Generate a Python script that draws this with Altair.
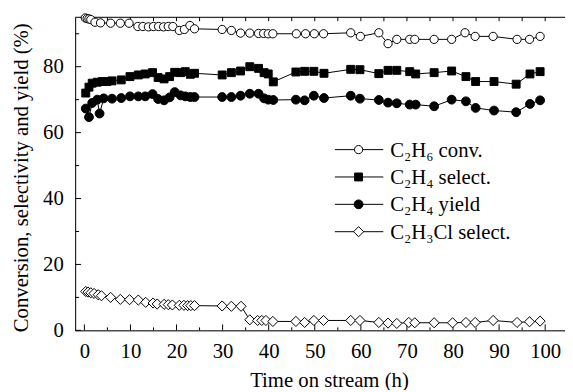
import altair as alt
import pandas as pd

# ---------------- data ----------------
conv_t = [0.2, 0.6, 1.0, 1.4, 2.3, 3.5, 5.7, 7.8, 9.7, 11.6, 12.7, 13.9, 15.0, 16.1, 17.2, 18.2,
          19.2, 20.6, 21.7, 22.9, 23.9, 29.9, 31.9, 33.9, 35.9, 37.8, 38.9, 39.9, 40.9, 46.0, 48.0, 49.9,
          51.9, 57.8, 59.9, 63.9, 65.9, 67.8, 70.6, 71.7, 75.9, 79.7, 82.6, 84.8, 88.7, 93.9, 96.6, 98.9]
conv_v = [94.8, 94.6, 94.5, 94.3, 93.5, 93.3, 93.2, 93.2, 93.2, 92.2, 92.2, 92.1, 92.2, 92.2, 92.1, 92.2,
          92.2, 91.0, 91.3, 92.5, 91.5, 91.3, 91.0, 90.2, 90.2, 90.1, 90.1, 90.0, 90.0, 90.0, 90.0, 90.0,
          90.0, 90.3, 89.2, 90.3, 87.0, 88.3, 88.3, 88.3, 88.3, 88.3, 90.3, 89.2, 89.2, 88.3, 88.3, 89.2]

sel_t = [0.3, 1.0, 1.7, 2.8, 3.9, 4.9, 6.0, 8.0, 9.9, 11.7, 13.2, 14.8, 16.0, 17.3, 18.5, 19.6,
         20.9, 21.9, 23.0, 23.9, 29.9, 31.9, 33.9, 35.9, 37.8, 39.0, 39.9, 41.0, 45.9, 47.8, 49.8, 52.0,
         57.8, 59.8, 63.9, 65.9, 67.8, 70.6, 71.9, 75.9, 79.7, 82.8, 84.9, 88.9, 93.7, 96.7, 98.9]
sel_v = [72.0, 73.8, 75.0, 75.3, 75.5, 75.5, 75.7, 76.0, 77.0, 77.5, 77.8, 78.2, 76.7, 76.3, 77.0, 78.3,
         78.2, 78.5, 77.7, 78.0, 77.5, 78.2, 78.7, 80.0, 79.5, 78.2, 77.8, 75.4, 78.4, 78.6, 78.6, 78.0,
         79.2, 79.1, 77.9, 78.9, 78.9, 78.5, 77.8, 78.2, 78.7, 77.0, 75.5, 75.5, 74.7, 77.8, 78.5]

yld_t = [0.3, 1.0, 1.7, 2.8, 3.3, 4.2, 6.0, 8.0, 9.9, 11.7, 13.2, 14.8, 16.0, 17.3, 18.5, 19.6,
         20.9, 21.9, 23.0, 23.9, 29.9, 31.9, 33.9, 35.9, 37.8, 39.0, 39.9, 41.0, 45.9, 47.8, 49.8, 52.0,
         57.8, 59.8, 63.9, 65.9, 67.8, 70.6, 71.9, 75.9, 79.7, 82.8, 84.9, 88.9, 93.7, 96.7, 98.9]
yld_v = [67.3, 64.7, 69.0, 70.0, 65.8, 70.4, 70.3, 70.5, 71.0, 71.0, 71.0, 71.7, 70.2, 69.8, 70.7, 72.3,
         71.3, 71.0, 70.8, 70.8, 70.8, 70.8, 71.2, 71.8, 71.8, 70.4, 70.0, 69.9, 70.0, 69.8, 71.2, 70.5,
         71.2, 70.3, 69.9, 69.1, 68.9, 68.5, 68.5, 68.0, 70.0, 69.5, 67.5, 66.7, 66.2, 68.7, 69.8]

cl_t = [0.3, 0.8, 1.4, 2.1, 3.0, 3.7, 5.7, 7.8, 9.8, 11.7, 13.3, 14.9, 15.8, 17.3, 18.2, 19.1,
        20.6, 21.6, 22.4, 23.1, 23.9, 29.9, 31.9, 34.0, 35.9, 37.6, 38.5, 39.4, 40.9, 45.9, 47.8, 49.8,
        51.9, 57.8, 59.8, 63.9, 65.9, 67.8, 70.4, 71.7, 75.9, 79.9, 82.8, 84.8, 88.7, 93.9, 96.6, 98.9]
cl_v = [11.8, 11.6, 11.4, 11.2, 10.8, 10.5, 10.0, 9.4, 9.3, 9.2, 8.5, 8.3, 8.0, 7.9, 7.8, 7.7,
        7.6, 7.6, 7.5, 7.5, 7.5, 7.4, 7.3, 7.3, 3.2, 3.0, 3.0, 3.0, 2.7, 2.7, 2.4, 3.0,
        3.0, 3.0, 3.0, 2.4, 2.2, 2.1, 2.4, 2.3, 2.3, 2.3, 2.4, 2.4, 3.0, 2.4, 2.6, 2.8]

labels = ["C\u2082H\u2086 conv.", "C\u2082H\u2084 select.", "C\u2082H\u2084 yield", "C\u2082H\u2083Cl select."]

x_major = [0, 10, 20, 30, 40, 50, 60, 70, 80, 90, 100]
x_minor = [5, 15, 25, 35, 45, 55, 65, 75, 85, 95]
y_major = [0, 20, 40, 60, 80]
y_minor = [10, 30, 50, 70, 90]

# ---------------- styling ----------------
W, H = 496, 317
FONT = "Liberation Serif"
FS = 21

x_enc = alt.X(
    "t:Q",
    scale=alt.Scale(domain=[-2, 104.3], nice=False, zero=False),
    axis=alt.Axis(values=x_major, ticks=False, grid=False, domain=True, domainColor="black",
                  domainWidth=1, labelPadding=10, labelFlush=False, format="d",
                  title="Time on stream (h)",
                  titleX=257, titleY=51, titleBaseline="middle", titleAlign="center"),
)
y_enc = alt.Y(
    "v:Q",
    scale=alt.Scale(domain=[0, 95], nice=False, zero=False),
    axis=alt.Axis(values=y_major, ticks=False, grid=False, domain=True, domainColor="black",
                  domainWidth=1, labelPadding=12, labelFlush=False, format="d",
                  title="Conversion, selectivity and yield (%)", titleAngle=270,
                  titleX=-54, titleY=162, titleBaseline="middle", titleAlign="center"),
)

series = [
    (conv_t, conv_v, "circle", "white", 70),
    (sel_t, sel_v, "square", "black", 64),
    (yld_t, yld_v, "circle", "black", 80),
    (cl_t, cl_v, "diamond", "white", 105),
]

layers = []

# inward ticks on bottom, top and left
def tick_layer(vals, field, kind, length):
    df = pd.DataFrame({field: vals})
    c = alt.Chart(df).mark_rule(color="black", strokeWidth=1)
    if kind == "bottom":
        return c.encode(x=x_enc, y=alt.value(H), y2=alt.value(H - length))
    if kind == "top":
        return c.encode(x=x_enc, y=alt.value(0), y2=alt.value(length))
    return c.encode(y=y_enc, x=alt.value(0), x2=alt.value(length))

layers += [
    tick_layer(x_major, "t", "bottom", 6),
    tick_layer(x_minor, "t", "bottom", 3),
    tick_layer(x_major, "t", "top", 4),
    tick_layer(x_minor, "t", "top", 4),
    tick_layer(y_major, "v", "left", 6),
    tick_layer(y_minor, "v", "left", 4),
]

# top frame line
layers.append(
    alt.Chart(pd.DataFrame({"a": [0]})).mark_rule(color="black", strokeWidth=1)
    .encode(x=alt.value(0), x2=alt.value(W), y=alt.value(0))
)

for (ts, vs, shape, fill, size) in series:
    df = pd.DataFrame({"t": ts, "v": vs})
    base = alt.Chart(df)
    layers.append(base.mark_line(color="black", strokeWidth=1).encode(x=x_enc, y=y_enc, order="t:Q"))
    layers.append(base.mark_point(shape=shape, filled=True, fill=fill, stroke="black",
                                  strokeWidth=1, size=size, opacity=1)
                  .encode(x=x_enc, y=y_enc))

# legend drawn as marks
LEG_Y0, LEG_DY = 134, 27.7
for i, (label, (_, _, shape, fill, size)) in enumerate(zip(labels, series)):
    ly = LEG_Y0 + LEG_DY * i
    ldf = pd.DataFrame({"label": [label]})
    lc = alt.Chart(ldf)
    layers.append(lc.mark_rule(color="black", strokeWidth=1)
                  .encode(x=alt.value(263), x2=alt.value(312), y=alt.value(ly)))
    layers.append(lc.mark_point(shape=shape, filled=True, fill=fill, stroke="black",
                                strokeWidth=1, size=size, opacity=1)
                  .encode(x=alt.value(287), y=alt.value(ly)))
    layers.append(lc.mark_text(align="left", baseline="middle", font=FONT, fontSize=FS,
                               color="black", dy=1)
                  .encode(x=alt.value(319), y=alt.value(ly), text="label:N"))

chart = (
    alt.layer(*layers)
    .properties(width=W, height=H,
                padding={"left": 68, "top": 7, "right": 0, "bottom": 58},
                autosize=alt.AutoSizeParams(type="none"))
    .configure_view(strokeWidth=0)
    .configure(background="white", font=FONT)
    .configure_axis(labelFont=FONT, labelFontSize=FS, labelColor="black",
                    titleFont=FONT, titleFontSize=FS, titleFontWeight="normal",
                    titleColor="black")
)

chart.save("out.html", embed_options={"renderer": "svg", "actions": False})
